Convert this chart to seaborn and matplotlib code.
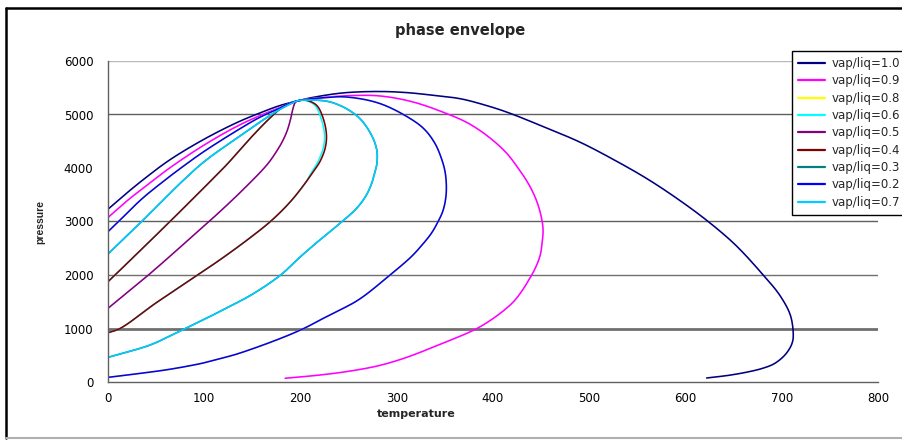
import matplotlib
matplotlib.use("Agg")
import matplotlib.pyplot as plt
import numpy as np
import pandas as pd
import seaborn as sns
from matplotlib.lines import Line2D

# ---------------- data ----------------
series_labels = ["vap/liq=1.0", "vap/liq=0.9", "vap/liq=0.8", "vap/liq=0.6",
                 "vap/liq=0.5", "vap/liq=0.4", "vap/liq=0.3", "vap/liq=0.2",
                 "vap/liq=0.7"]
series_colors = ["#000080", "#FF00FF", "#FFFF00", "#00FFFF", "#800080",
                 "#800000", "#008080", "#0000FF", "#00CCFF"]

t_10 = [0, 20, 40, 64, 99, 134, 158, 179, 196, 213, 245, 282, 310, 335, 366,
        390, 414, 450, 490, 525, 560, 592, 622, 652, 681, 698, 709, 712, 711,
        708, 702, 692, 680, 664, 645, 622]
p_10 = [3230, 3540, 3830, 4150, 4530, 4850, 5030, 5170, 5250, 5320, 5405,
        5430, 5410, 5365, 5295, 5185, 5047, 4790, 4486, 4160, 3800, 3420,
        3022, 2560, 1994, 1620, 1246, 873, 740, 620, 480, 340, 255, 185, 125,
        75]

t_09 = [0, 20, 45, 64, 99, 134, 158, 180, 196, 225, 255, 283, 317, 352, 375,
        397, 414, 426, 437, 445, 450, 452, 451, 449, 444, 438, 430, 421, 405,
        383, 352, 334, 307, 280, 250, 220, 184]
p_09 = [3075, 3390, 3740, 4000, 4420, 4780, 4980, 5140, 5250, 5320, 5355,
        5346, 5234, 5016, 4830, 4560, 4280, 4000, 3700, 3400, 3100, 2850,
        2600, 2368, 2130, 1931, 1700, 1495, 1250, 997, 754, 623, 440, 300,
        200, 130, 70]

t_02 = [0, 11, 35, 57.5, 75, 99, 134, 158, 179, 196, 225, 248, 283, 317, 330,
        340, 346, 350, 351.5, 351, 348, 343, 336, 326, 315, 293, 260, 230, 203,
        175, 134, 116, 99, 64, 33, 0]
p_02 = [2810, 3000, 3420, 3750, 3990, 4300, 4700, 4950, 5120, 5250, 5315,
        5327, 5202, 4890, 4700, 4450, 4200, 3950, 3700, 3450, 3200, 3000,
        2780, 2555, 2340, 2000, 1533, 1250, 997, 785, 523, 435, 355, 237, 160,
        87]
t_08 = list(t_02)
p_08 = list(p_02)

t_07 = [0, 35, 76.5, 100, 134, 158, 178, 196, 200, 231, 258, 272, 279, 279.5,
        277, 274, 268, 258, 243, 220, 200, 179, 150, 130, 116, 80, 45, 20, 0]
p_07 = [2393, 3000, 3740, 4120, 4560, 4860, 5090, 5250, 5265, 5234, 4985,
        4673, 4361, 4100, 3900, 3714, 3480, 3240, 2996, 2654, 2343, 1994,
        1640, 1445, 1315, 997, 700, 560, 461]
t_03 = list(t_07)
p_03 = list(p_07)

t_05 = [0, 42, 80, 116, 140, 165, 174, 181, 186, 189.5, 192, 194, 196]
p_05 = [1377, 2000, 2600, 3180, 3590, 4056, 4280, 4490, 4690, 4900, 5100,
        5210, 5250]

t_04 = [0, 7.3, 64.4, 107.7, 123, 151, 168, 182, 196, 206, 216.8, 223.7, 227,
        225.5, 220, 214, 205, 190, 170, 145, 116, 93, 50, 12.5, 0]
p_04 = [1875, 2000, 3000, 3776, 4056, 4617, 4929, 5146, 5250, 5265, 5171,
        4922, 4611, 4361, 4112, 3950, 3720, 3380, 3020, 2660, 2280, 2000,
        1480, 1000, 922]
t_06 = [0, 7.3, 64.4, 107.7, 123, 151, 168, 182, 196, 205, 215, 221.5, 225,
        223.5, 218, 212.5, 205, 190, 170, 145, 116, 93, 50, 12.5, 0]
p_06 = list(p_04)

x_ticks = [0, 100, 200, 300, 400, 500, 600, 700, 800]
y_ticks = [0, 1000, 2000, 3000, 4000, 5000, 6000]

series_t = [t_10, t_09, t_08, t_06, t_05, t_04, t_03, t_02, t_07]
series_p = [p_10, p_09, p_08, p_06, p_05, p_04, p_03, p_02, p_07]


def smoothed(ts, ps, n=14):
    """Excel-style 'smoothed line' rendering: centripetal Catmull-Rom
    through the read points (the points themselves are unchanged)."""
    sx, sy = 0.9625, 0.0535
    P = np.column_stack([np.asarray(ts, float) * sx, np.asarray(ps, float) * sy])
    P = np.vstack([2 * P[0] - P[1], P, 2 * P[-1] - P[-2]])
    out = [P[1]]
    for i in range(1, len(P) - 2):
        p0, p1, p2, p3 = P[i - 1], P[i], P[i + 1], P[i + 2]
        def tj(ti, a, b):
            return ti + max(np.linalg.norm(b - a), 1e-6) ** 0.5
        t0 = 0.0
        t1 = tj(t0, p0, p1)
        t2 = tj(t1, p1, p2)
        t3 = tj(t2, p2, p3)
        for u in np.linspace(t1, t2, n + 1)[1:]:
            a1 = (t1 - u) / (t1 - t0) * p0 + (u - t0) / (t1 - t0) * p1
            a2 = (t2 - u) / (t2 - t1) * p1 + (u - t1) / (t2 - t1) * p2
            a3 = (t3 - u) / (t3 - t2) * p2 + (u - t2) / (t3 - t2) * p3
            b1 = (t2 - u) / (t2 - t0) * a1 + (u - t0) / (t2 - t0) * a2
            b2 = (t3 - u) / (t3 - t1) * a2 + (u - t1) / (t3 - t1) * a3
            out.append((t2 - u) / (t2 - t1) * b1 + (u - t1) / (t2 - t1) * b2)
    out = np.array(out)
    return out[:, 0] / sx, out[:, 1] / sy


rows = []
for lab, ts, ps in zip(series_labels, series_t, series_p):
    xs, ys = smoothed(ts, ps)
    for t, p in zip(xs, ys):
        rows.append({"temperature": t, "pressure": p, "series": lab})
df = pd.DataFrame(rows)

# ---------------- figure ----------------
sns.set_style("white")
plt.rcParams["font.family"] = ["DejaVu Sans"]

W, H = 902, 440
fig = plt.figure(figsize=(W / 100, H / 100), dpi=100)
fig.patch.set_facecolor("white")
ax = fig.add_axes([108 / W, 1 - 382 / H, (878 - 108) / W, (382 - 61) / H])

palette = dict(zip(series_labels, series_colors))
sns.lineplot(data=df, x="temperature", y="pressure", hue="series",
             hue_order=series_labels, palette=palette, sort=False,
             estimator=None, legend=False, linewidth=1.15, ax=ax)

ax.set_xlim(0, 800)
ax.set_ylim(0, 6000)
ax.set_xticks(x_ticks)
ax.set_yticks(y_ticks)
ax.set_xlabel("")
ax.set_ylabel("")

# gridlines as they appear in the picture
grid_style = {1000: (2.0, "#707070"), 2000: (1.0, "#707070"),
              3000: (1.0, "#606060"), 5000: (1.0, "#606060"),
              6000: (1.0, "#b8b8b8")}
for lvl, (lw, col) in grid_style.items():
    ax.axhline(lvl, color=col, lw=lw, zorder=0.5)

for side in ["top", "right"]:
    ax.spines[side].set_visible(False)
for side in ["left", "bottom"]:
    ax.spines[side].set_color("#606060")
    ax.spines[side].set_linewidth(1.0)

ax.tick_params(axis="both", direction="out", length=3.5, width=1.0,
               color="#606060", labelsize=8.5, labelcolor="black")
ax.tick_params(axis="y", pad=7)
ax.tick_params(axis="x", pad=3.5)

fig.text(460 / W, 1 - 30 / H, "phase envelope", ha="center", va="center",
         fontsize=10.5, fontweight="bold")
fig.text(416 / W, 1 - 414 / H, "temperature", ha="center", va="center",
         fontsize=8, fontweight="bold")
fig.text(40 / W, 1 - 222 / H, "pressure", ha="center", va="center",
         rotation=90, fontsize=7.5, fontweight="bold",
         family=["Liberation Sans", "DejaVu Sans"])

handles = [Line2D([], [], color=c, lw=1.6) for c in series_colors]
leg = fig.legend(handles, series_labels, loc="upper left",
                 bbox_to_anchor=(792 / W, 1 - 51 / H),
                 bbox_transform=fig.transFigure, frameon=True, fancybox=False,
                 edgecolor="black", framealpha=1, borderaxespad=0,
                 borderpad=0.5, handlelength=2.3, handletextpad=0.6,
                 labelspacing=0.37, fontsize=8.5)
leg.get_frame().set_linewidth(1.0)

# chart-area border
fig.add_artist(Line2D([6 / W, 6 / W], [1 - 8 / H, 1 - 438 / H],
                      transform=fig.transFigure, color="black", lw=1.8))
fig.add_artist(Line2D([6 / W, 1.0], [1 - 8 / H, 1 - 8 / H],
                      transform=fig.transFigure, color="black", lw=1.8))
fig.add_artist(Line2D([6 / W, 1.0], [1 - 438 / H, 1 - 438 / H],
                      transform=fig.transFigure, color="#b0b0b0", lw=1.5))

fig.savefig("out.png", dpi=100)
